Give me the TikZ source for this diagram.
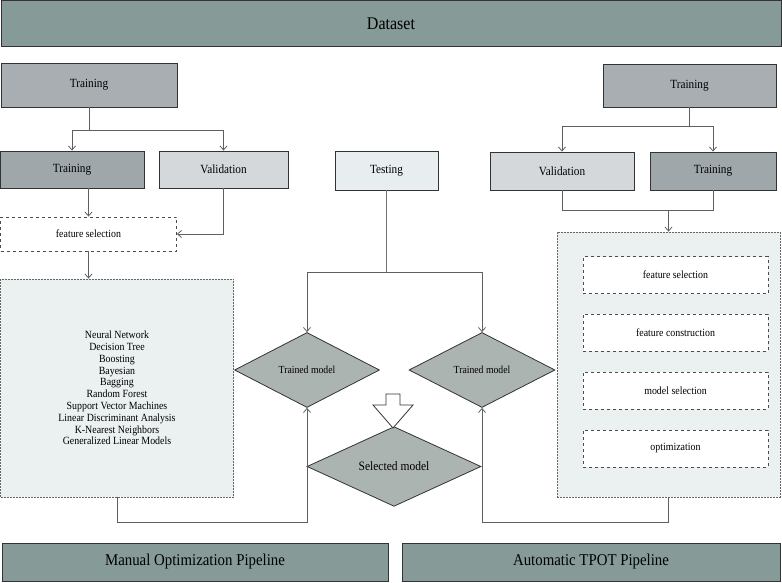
\documentclass[tikz,border=0pt]{standalone}
\usepackage{fontspec}
\setmainfont{Liberation Serif}[FakeStretch=0.9]
\usetikzlibrary{arrows.meta,shapes.geometric,positioning}

\definecolor{bandgreen}{RGB}{134,154,151}
\definecolor{traingray}{RGB}{168,174,177}
\definecolor{traindark}{RGB}{160,167,170}
\definecolor{valgray}{RGB}{212,216,218}
\definecolor{testgray}{RGB}{232,238,240}
\definecolor{panelgray}{RGB}{235,240,241}
\definecolor{decgray}{RGB}{172,180,178}
\definecolor{linegray}{RGB}{95,95,95}

\begin{document}
\begin{tikzpicture}[x=1pt,y=-1pt,->,>={Straight Barb[length=4pt,width=7pt]},line width=0.8pt,draw=linegray]
		\tikzstyle{band}=[draw=black!80,fill=bandgreen,line width=1pt,inner sep=0pt]
		\tikzstyle{block}=[draw=black!80,line width=0.9pt,inner sep=0pt,font=\fontsize{12.5}{14}\selectfont]
		\tikzstyle{dashbox}=[draw=black!70,dashed,line width=0.8pt,inner sep=0pt,fill=white,font=\fontsize{11}{13}\selectfont]
		\tikzstyle{panel}=[draw=black!60,dash pattern=on 2pt off 1pt,line width=0.8pt,inner sep=0pt,fill=panelgray]
		\tikzstyle{decision}=[diamond,draw=black!80,fill=decgray,line width=0.8pt,inner sep=0pt]

		\useasboundingbox (0,0) rectangle (782,583);

		% top and bottom bands
		\node[band,minimum width=780,minimum height=46,font=\fontsize{17.8}{20}\selectfont] (data) at (391,24) {Dataset};
		\node[band,minimum width=386,minimum height=38,font=\fontsize{16.5}{19}\selectfont] (manual) at (195,562) {Manual Optimization Pipeline};
		\node[band,minimum width=378,minimum height=38,font=\fontsize{16.5}{19}\selectfont] (tpot) at (591,562) {Automatic TPOT Pipeline};

		% manual side
		\node[block,fill=traingray,minimum width=176,minimum height=44] (trainL) at (89,85) {Training};
		\node[block,fill=traindark,minimum width=144,minimum height=37] (trainLL) at (72,169.5) {Training};
		\node[block,fill=valgray,minimum width=129,minimum height=37] (valL) at (223.5,169.5) {Validation};
		\node[dashbox,minimum width=176,minimum height=34] (fsL) at (88.5,234) {feature selection};
		\node[panel,minimum width=233,minimum height=218,align=center,font=\fontsize{11}{11.8}\selectfont] (algoL) at (117,388)
			{Neural Network\\Decision Tree\\Boosting\\Bayesian\\Bagging\\Random Forest\\Support Vector Machines\\Linear Discriminant Analysis\\K-Nearest Neighbors\\Generalized Linear Models};

		% testing and models
		\node[block,fill=testgray,minimum width=103,minimum height=39] (test) at (386.5,170.5) {Testing};
		\node[decision,minimum width=145,minimum height=75,font=\fontsize{10.8}{12}\selectfont] (diaL) at (307,370) {Trained model};
		\node[decision,minimum width=146,minimum height=75,font=\fontsize{10.8}{12}\selectfont] (diaR) at (482,370) {Trained model};
		\node[decision,minimum width=174,minimum height=61,font=\fontsize{12.8}{14}\selectfont] (diaS) at (394,466.5) {Selected model};

		% automatic side
		\node[block,fill=traingray,minimum width=173,minimum height=43] (trainR) at (689.5,85.5) {Training};
		\node[block,fill=valgray,minimum width=144,minimum height=38] (valR) at (562,171) {Validation};
		\node[block,fill=traindark,minimum width=126,minimum height=38] (trainRR) at (713,171) {Training};
		\node[panel,minimum width=223,minimum height=265] (box) at (668.5,364.5) {};
		\node[dashbox,minimum width=185,minimum height=37] (fsR) at (675.5,275) {feature selection};
		\node[dashbox,minimum width=185,minimum height=37,below=20pt of fsR] (fcR) {feature construction};
		\node[dashbox,minimum width=185,minimum height=37,below=20pt of fcR] (msR) {model selection};
		\node[dashbox,minimum width=185,minimum height=37,below=20pt of msR] (optR) {optimization};

		% connectors, manual side
		\draw[-] (trainL.south) -- ++(0,23) coordinate (splitL);
		\draw (splitL) -| (trainLL.north);
		\draw (splitL) -| (valL.north);
		\draw (fsL.north |- trainLL.south) -- (fsL.north);
		\draw (valL.south) |- (fsL.east);
		\draw (fsL.south) -- (fsL.south |- algoL.north);

		% connectors, testing
		\draw[-,line width=1.4pt,draw=black!55] (test.south) -- ++(0,82) coordinate (splitT);
		\draw (splitT) -| (diaL.north);
		\draw (splitT) -| (diaR.north);

		% connectors, automatic side
		\draw[-] (trainR.south) -- ++(0,19) coordinate (splitR);
		\draw (splitR) -| (valR.north);
		\draw (splitR) -| (trainRR.north);
		\draw[-] (valR.south) -- ++(0,20) coordinate (mergeR) -| (trainRR.south);
		\draw (mergeR -| box.north) -- (box.north);

		% back to the trained models
		\draw (algoL.south) -- ++(0,25) -| (diaL.south);
		\draw (box.south) -- ++(0,25) -| (diaR.south);

		% hollow arrow to the selected model
		\draw[-,fill=white,draw=black!80] (386,394) -- (400,394) -- (400,405) -- (413,405) -- (393,428) -- (373,405) -- (386,405) -- cycle;
	\end{tikzpicture}
\end{document}
